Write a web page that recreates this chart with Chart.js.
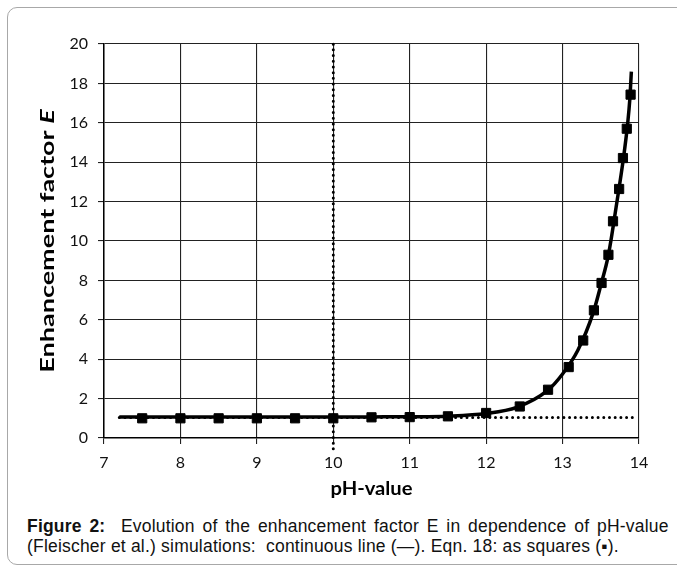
<!DOCTYPE html>
<html>
<head>
<meta charset="utf-8">
<script src="https://cdn.jsdelivr.net/npm/chart.js@4"></script>
<style>
  body { margin: 0; background: #fff; width: 677px; height: 570px; overflow: hidden; position: relative; }
  .frame { position: absolute; left: 7px; top: 7px; width: 700px; height: 558px; border: 1.5px solid #a8a8a8; border-radius: 10px; box-sizing: border-box; }
  .plot { position: absolute; left: 0; top: 0; width: 677px; height: 510px; }
  .caption { position: absolute; left: 27px; top: 516px; font-family: "Liberation Sans", Arial, sans-serif; font-size: 17.5px; line-height: 20px; color: #111; white-space: nowrap; letter-spacing: 0.2px; }
  .caption .l1 { word-spacing: 2.7px; }
</style>
</head>
<body>
<div class="frame"></div>
<div class="plot"><canvas id="enhChart" width="677" height="510"></canvas></div>
<div class="caption"><span class="l1"><b>Figure 2:</b>&nbsp; Evolution of the enhancement factor E in dependence of pH-value</span><br>(Fleischer et al.) simulations:&nbsp; continuous line (—). Eqn. 18: as squares (▪).</div>
<script>
// simulated curve
const phLine = [7.2, 8, 9, 10, 10.5, 11, 11.5, 12, 12.4, 12.8, 13.0, 13.2, 13.4, 13.5, 13.6, 13.7, 13.8, 13.85, 13.88, 13.9];
const eLine = [1.06, 1.06, 1.06, 1.06, 1.07, 1.08, 1.11, 1.24, 1.55, 2.4, 3.25, 4.45, 6.35, 7.75, 9.3, 11.7, 14.3, 15.9, 17.2, 18.6];

// Eqn. 18 values (squares)
const phSquares = [7.5, 8, 8.5, 9, 9.5, 10, 10.5, 11, 11.5, 12, 12.44, 12.81, 13.08, 13.27, 13.41, 13.51, 13.6, 13.66, 13.74, 13.79, 13.84, 13.89];
const eSquares = [1.0, 1.0, 1.0, 1.0, 1.0, 1.0, 1.05, 1.06, 1.1, 1.27, 1.6, 2.45, 3.6, 4.95, 6.48, 7.87, 9.3, 11.0, 12.64, 14.21, 15.7, 17.43];

// reference lines: E = 1 and pH = 10
const phBase = [7.2, 13.95];
const eBase = [1.04, 1.04];
const phMark = [10, 10];
const eMark = [-0.55, 20];

const xTicks = [7, 8, 9, 10, 11, 12, 13, 14];
const yTicks = [0, 2, 4, 6, 8, 10, 12, 14, 16, 18, 20];

const toPoints = (xs, ys) => xs.map((x, i) => ({ x: x, y: ys[i] }));

Chart.defaults.font.family = 'Lato, "Open Sans", sans-serif';
Chart.defaults.color = '#111';

// axis titles drawn by hand so the E can be italic
const axisTitles = {
    id: 'axisTitles',
    afterDraw(chart) {
        const ctx = chart.ctx;
        const area = chart.chartArea;
        ctx.save();
        ctx.fillStyle = '#000';
        ctx.textBaseline = 'alphabetic';
        ctx.textAlign = 'center';
        ctx.save();
        ctx.translate((area.left + area.right) / 2, 495);
        ctx.scale(1.12, 1);
        ctx.font = 'bold 18px Lato';
        ctx.fillText('pH-value', 0, 0);
        ctx.restore();

        ctx.translate(54, (area.top + area.bottom) / 2);
        ctx.rotate(-Math.PI / 2);
        ctx.scale(1.5, 1);
        const part1 = 'Enhancement factor ';
        ctx.font = 'bold 18px Lato';
        const w1 = ctx.measureText(part1).width;
        ctx.font = 'italic bold 18px Lato';
        const w2 = ctx.measureText('E').width;
        const start = -(w1 + w2) / 2;
        ctx.textAlign = 'left';
        ctx.font = 'bold 18px Lato';
        ctx.fillText(part1, start, 0);
        ctx.font = 'italic bold 18px Lato';
        ctx.fillText('E', start + w1, 0);
        ctx.restore();
    }
};

new Chart(document.getElementById('enhChart'), {
    type: 'scatter',
    data: {
        datasets: [
            {
                data: toPoints(phMark, eMark),
                showLine: true,
                borderColor: '#000',
                borderWidth: 3,
                borderDash: [0, 5.7],
                borderCapStyle: 'round',
                pointRadius: 0,
                clip: false
            },
            {
                data: toPoints(phBase, eBase),
                showLine: true,
                borderColor: '#000',
                borderWidth: 3,
                borderDash: [0, 5.7],
                borderCapStyle: 'round',
                pointRadius: 0
            },
            {
                data: toPoints(phLine, eLine),
                showLine: true,
                borderColor: '#000',
                borderWidth: 3.5,
                cubicInterpolationMode: 'monotone',
                pointRadius: 0,
                clip: false
            },
            {
                data: toPoints(phSquares, eSquares),
                showLine: false,
                pointStyle: 'rect',
                pointRadius: 6.5,
                pointBackgroundColor: '#000',
                pointBorderColor: '#000',
                pointBorderWidth: 1
            }
        ]
    },
    options: {
        responsive: false,
        animation: false,
        layout: { padding: { left: 0, right: 38, top: 44, bottom: 0 } },
        plugins: {
            legend: { display: false },
            tooltip: { enabled: false }
        },
        scales: {
            x: {
                type: 'linear',
                min: 7,
                max: 14,
                afterBuildTicks: (scale) => { scale.ticks = xTicks.map(v => ({ value: v })); },
                afterFit: (scale) => { scale.height = 72; },
                grid: { color: '#222', lineWidth: 1.1, tickLength: 6, tickColor: '#222' },
                border: { color: '#000', width: 1.5 },
                ticks: { font: { size: 16 }, color: '#111', padding: 9 }
            },
            y: {
                min: 0,
                max: 20,
                afterBuildTicks: (scale) => { scale.ticks = yTicks.map(v => ({ value: v })); },
                afterFit: (scale) => { scale.width = 104; },
                grid: { color: '#222', lineWidth: 1.1, tickLength: 6, tickColor: '#222' },
                border: { color: '#000', width: 1.5 },
                ticks: { font: { size: 16 }, color: '#111', padding: 10 }
            }
        }
    },
    plugins: [axisTitles]
});
</script>
</body>
</html>
